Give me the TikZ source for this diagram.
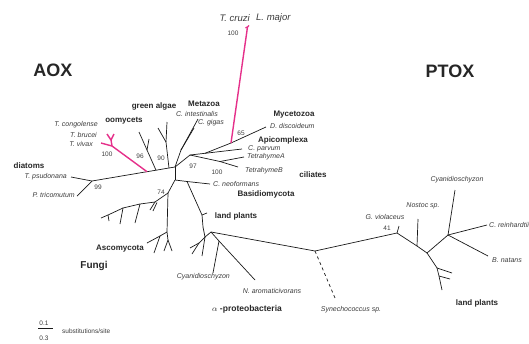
\documentclass[tikz,border=0pt]{standalone}
\usepackage{fontspec}
\setmainfont{Liberation Sans}
\definecolor{branchpink}{HTML}{E5308A}
\definecolor{taxongray}{HTML}{3C3C3C}
\tikzset{
  taxon/.style={font=\fontsize{7}{8}\selectfont\itshape, text=taxongray, inner sep=0pt},
  clade/.style={font=\fontsize{8}{9}\selectfont\bfseries, text=black!85, inner sep=0pt},
  boot/.style={font=\fontsize{6.5}{7}\selectfont, text=taxongray, inner sep=0pt},
  oxidase/.style={font=\fontsize{18}{20}\selectfont\bfseries, text=black!85, inner sep=0pt},
  tree/.style={line width=0.7pt, black!90},
  pinktree/.style={line width=1.4pt, branchpink},
}
\begin{document}
\begin{tikzpicture}[x=1pt, y=-1pt]
  \useasboundingbox (0,0) rectangle (529,343);
  % tree vertices
  \foreach \n/\x/\y in {c0/175/167, ga/169/168, oo/156/170.2, pk/147/171.7, dt/92/181, tps/71/177, ptri/77/196,
      pv/112/146, tviv/101/143, py/111/140, tcon/107/134, tbru/114/134,
      on1/147/150, ot1/139/132, ot2/149/139, gn1/166/142, gt1/167/122, gt2/158/128,
      mz/181/150, mt1/198/119, mt2/194/128, ca/190/155, cp1/205/153.3, cpar/242/149,
      pk2/231/143, ddis/266/127, pt/247.5/27, ptl/245.5/28, ptrr/249/25.5,
      te/220/161.5, teb/238/167, tea/244/157,
      n1/175/180, cn0/187/181.5, cneo/210/184,
      lp1/202/215, lpt/207/213, lp2/203/227, lp3/205/237, lp4/199/243,
      lpa/190/248, lpb/192/254, lpc/202/256,
      pb/211/232, nb/219/241, naro/255/280, cyan/213/273,
      f0/168/193, f1/167/232, fa/160/236, fat1/147/243, fat2/154/253,
      fw/168/240, fwt1/164/251, fwt2/172/251,
      f2/155/202, f2t1/150/210, f2s/157/202.5, f2t2/153/211,
      f3/140/204, f3t/135/223, f4/123/208, f4t/120/224, f5/108/215, f5t/109/221, f5e/101/218,
      pm/315/251, syn/335/298, p41/397/233, gvi/399/226, pn/417/246, nos/418/219,
      pc/427/253, pd/448/235, cya/455/190, crn/487/225, bnt/488/256,
      pl1/437/268, plt1/452/273, pl2/439/276, plt2/450/279, plt3/442/290}
    \coordinate (\n) at (\x,\y);
  % branches
  \foreach \a/\b in {c0/ga, ga/oo, oo/pk, pk/dt, dt/tps, dt/ptri,
      oo/on1, on1/ot1, on1/ot2, ga/gn1, gn1/gt1, gn1/gt2,
      c0/mz, mz/mt1, mz/mt2, c0/ca, ca/cp1, cp1/cpar, cp1/pk2, pk2/ddis,
      ca/te, te/teb, te/tea,
      c0/n1, n1/cn0, cn0/cneo, cn0/lp1, lp1/lpt, lp1/lp2, lp2/lp3, lp3/lp4, lp4/lpa, lp4/lpb, lp3/lpc,
      lp3/pb, pb/nb, nb/naro, nb/cyan, pb/pm,
      n1/f0, f0/f1, f1/fa, fa/fat1, fa/fat2, f1/fw, fw/fwt1, fw/fwt2,
      f0/f2, f2/f2t1, f2s/f2t2, f2/f3, f3/f3t, f3/f4, f4/f4t, f4/f5, f5/f5t, f5/f5e,
      pm/p41, p41/gvi, p41/pn, pn/nos, pn/pc, pc/pd, pd/cya, pd/crn, pd/bnt,
      pc/pl1, pl1/plt1, pl1/pl2, pl2/plt2, pl2/plt3}
    \draw[tree] (\a) -- (\b);
  \draw[tree, dashed] (pm) -- (syn);
  % trypanosomatid branches
  \foreach \a/\b in {pk/pv, pv/tviv, pv/py, py/tcon, py/tbru, pk2/pt, pt/ptl, pt/ptrr}
    \draw[pinktree] (\a) -- (\b);

  % big labels
  \node[oxidase] (aox) at (53,70) {AOX};
  \node[oxidase] (ptox) at (450,71) {PTOX};
  % AOX side
  \node[taxon, font=\fontsize{9.5}{10}\selectfont\itshape, anchor=east] (tcru) at (250,18) {T. cruzi};
  \node[taxon, font=\fontsize{9.5}{10}\selectfont\itshape, anchor=west] (lmaj) at (256,18) {L. major};
  \node[boot] (b100a) at (233,33) {100};
  \node[clade] (metaz) at (204,104) {Metazoa};
  \node[taxon, anchor=east] (cint) at (218,114) {C. intestinalis};
  \node[taxon, anchor=east] (cgig) at (224,123) {C. gigas};
  \node[clade] (galg) at (154,106) {green algae};
  \node[clade] (oomy) at (124,121) {oomycets};
  \node[taxon, anchor=east] (tconl) at (98,125) {T. congolense};
  \node[taxon, anchor=east] (tbrul) at (97,135) {T. brucei};
  \node[taxon, anchor=east] (tvivl) at (93,144) {T. vivax};
  \node[boot] (b100b) at (107,154) {100};
  \node[boot] (b96) at (140,156) {96};
  \node[boot] (b90) at (161,158) {90};
  \node[clade] (diat) at (29,166) {diatoms};
  \node[taxon, anchor=east] (tpsl) at (67,177) {T. psudonana};
  \node[boot] (b99) at (98,187) {99};
  \node[taxon, anchor=east] (ptril) at (75,195) {P. tricomutum};
  \node[clade] (myce) at (294,115) {Mycetozoa};
  \node[taxon, anchor=west] (ddisl) at (270,126) {D. discoideum};
  \node[boot] (b65) at (241,133) {65};
  \node[clade] (apic) at (283,140) {Apicomplexa};
  \node[taxon, anchor=west] (cparl) at (248,149) {C. parvum};
  \node[taxon, anchor=west] (teal) at (247,157) {TetrahymeA};
  \node[boot] (b97) at (193,166) {97};
  \node[clade] (cili) at (313,175) {ciliates};
  \node[boot] (b100c) at (217,172) {100};
  \node[taxon, anchor=west] (tebl) at (245,171) {TetrahymeB};
  \node[taxon, anchor=west] (cneol) at (213,184) {C. neoformans};
  \node[clade] (basi) at (266,194) {Basidiomycota};
  \node[boot] (b74) at (161,192) {74};
  \node[clade] (lpla) at (236,216) {land plants};
  \node[clade] (asco) at (120,249) {Ascomycota};
  \node[clade, font=\fontsize{10}{11}\selectfont\bfseries] (fung) at (94,266) {Fungi};
  \node[taxon, anchor=east] (cyanl) at (230,277) {Cyanidioschyzon};
  \node[taxon] (narol) at (272,291) {N. aromaticivorans};
  \node[clade, font=\fontsize{8.5}{9}\selectfont\bfseries] (alph) at (247,309) {$\alpha$ -proteobacteria};
  % PTOX side
  \node[taxon] (synl) at (351,310) {Synechococcus sp.};
  \node[taxon] (gvil) at (385,217) {G. violaceus};
  \node[boot] (b41) at (387,228) {41};
  \node[taxon] (nosl) at (423,206) {Nostoc sp.};
  \node[taxon] (cyal) at (457,180) {Cyanidioschyzon};
  \node[taxon, anchor=west] (crnl) at (489,225) {C. reinhardtii};
  \node[taxon] (bntl) at (507,260) {B. natans};
  \node[clade] (lplb) at (477,303) {land plants};
  % scale
  \node[boot] (s1) at (44,323) {0.1};
  \node[boot] (s3) at (44,338) {0.3};
  \draw[tree] (s1.south west) ++(-1,2.5) coordinate (sl) -- ++(15,0) coordinate (sr);
  \node[boot, anchor=west] (subs) at (62,331) {substitutions/site};
\end{tikzpicture}
\end{document}
